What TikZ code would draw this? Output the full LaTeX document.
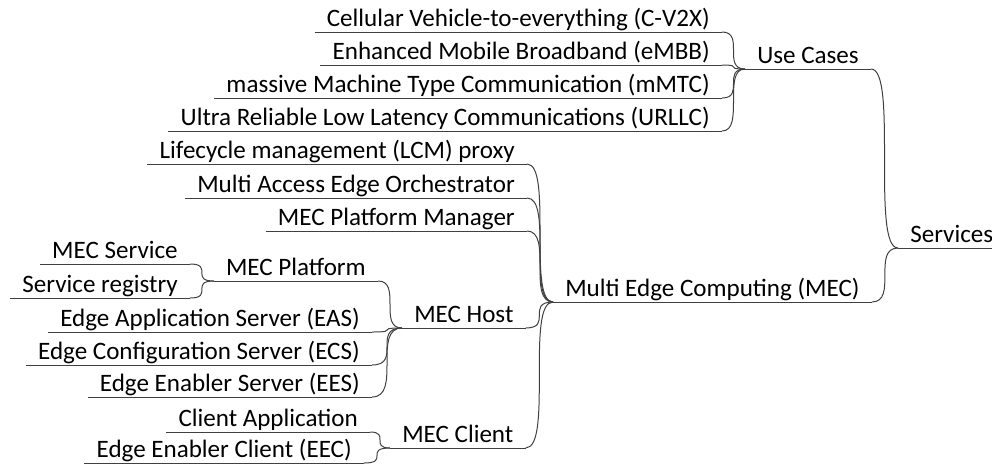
\documentclass[tikz,border=0pt]{standalone}
\usepackage{fontspec}
\setmainfont{Carlito}
\tikzset{
  topic/.style={inner xsep=9pt, inner ysep=0pt, text depth=3.75pt,
                font=\fontsize{18.8}{21}\selectfont},
  leaf/.style={topic, anchor=south east},
  hub/.style={topic, anchor=south west},
  branch/.style={draw=black!75, line width=0.75pt}
}
\begin{document}
\begin{tikzpicture}[x=0.75pt, y=-0.75pt]
  \useasboundingbox (0,0) rectangle (992,465);
  % root and first level
  \node[hub] (ser) at (898,248) {Services};
  \node[hub] (use) at (745,69) {Use Cases};
  \node[hub] (mec) at (553,302) {Multi Edge Computing (MEC)};
  % use cases
  \node[leaf] (cv2x) at (722,32) {Cellular Vehicle-to-everything (C-V2X)};
  \node[leaf] (embb) at (722,65) {Enhanced Mobile Broadband (eMBB)};
  \node[leaf] (mmtc) at (722,98) {massive Machine Type Communication (mMTC)};
  \node[leaf] (urllc) at (722,131) {Ultra Reliable Low Latency Communications (URLLC)};
  % MEC
  \node[leaf] (lcm) at (527,164) {Lifecycle management (LCM) proxy};
  \node[leaf] (meo) at (527,198) {Multi Access Edge Orchestrator};
  \node[leaf] (mpm) at (527,231) {MEC Platform Manager};
  \node[hub] (host) at (402,328) {MEC Host};
  \node[hub] (client) at (390,448) {MEC Client};
  % MEC host
  \node[leaf] (plat) at (378,281) {MEC Platform};
  \node[leaf] (msvc) at (190,264) {MEC Service};
  \node[leaf] (sreg) at (190,298) {Service registry};
  \node[leaf] (eas) at (372,332) {Edge Application Server (EAS)};
  \node[leaf] (ecs) at (372,365) {Edge Configuration Server (ECS)};
  \node[leaf] (ees) at (372,397) {Edge Enabler Server (EES)};
  % MEC client
  \node[leaf] (capp) at (370,432) {Client Application};
  \node[leaf] (eec) at (364,463) {Edge Enabler Client (EEC)};

  \foreach \n in {ser,use,mec,cv2x,embb,mmtc,urllc,lcm,meo,mpm,host,client,
                  plat,msvc,sreg,eas,ecs,ees,capp,eec}
    \draw[branch] (\n.south west) -- (\n.south east);
  \foreach \a/\b in {use/ser,mec/ser,cv2x/use,embb/use,mmtc/use,urllc/use,
                     lcm/mec,meo/mec,mpm/mec,host/mec,client/mec,
                     plat/host,eas/host,ecs/host,ees/host,
                     msvc/plat,sreg/plat,capp/client,eec/client}
    \draw[branch] (\a.south east)
      .. controls (\a.south east -| \b.south west)
      and (\b.south west -| \a.south east) .. (\b.south west);
\end{tikzpicture}
\end{document}
